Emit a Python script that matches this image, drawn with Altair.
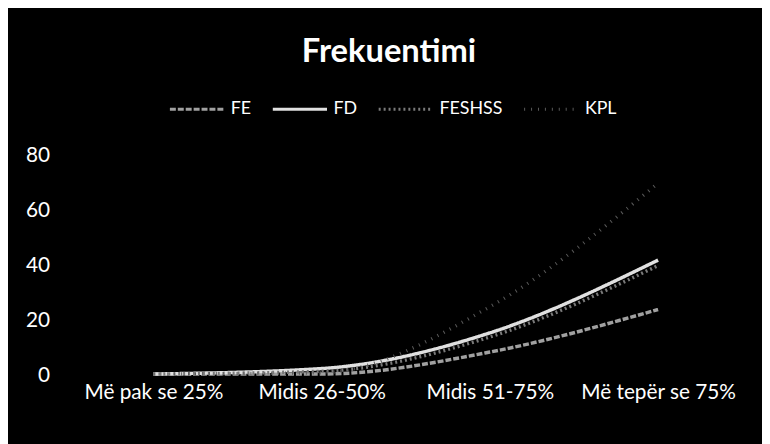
import altair as alt
import pandas as pd

categories = ["Më pak se 25%", "Midis 26-50%", "Midis 51-75%", "Më tepër se 75%"]
series_names = ["FE", "FD", "FESHSS", "KPL"]
fe = [0.5, 0.5, 8.5, 24]
fd = [0.5, 2.5, 15.5, 42]
feshss = [0.5, 1.5, 14, 40]
kpl = [0.5, 1, 25, 70]
y_ticks = [0, 20, 40, 60, 80]

rows = []
for name, vals in zip(series_names, [fe, fd, feshss, kpl]):
    for c, v in zip(categories, vals):
        rows.append({"cat": c, "series": name, "value": v})
df = pd.DataFrame(rows)

FONT = "Lato"

legend_cfg = dict(title=None, orient="none", direction="horizontal",
                  legendX=100, legendY=-76,
                  symbolType="stroke", symbolSize=3000,
                  symbolStrokeWidth=3, labelColor="white",
                  labelFontSize=18, labelFont=FONT, labelOffset=5,
                  columnPadding=15)

chart = alt.Chart(df).mark_line(interpolate="monotone").encode(
    x=alt.X("cat:N", sort=categories, scale=alt.Scale(type="point", padding=0.5),
            axis=alt.Axis(title=None, labelAngle=0, domain=False, ticks=False,
                          labelPadding=6, labelFontSize=21, labelColor="white",
                          labelFont=FONT)),
    y=alt.Y("value:Q", scale=alt.Scale(domain=[0, 80], nice=False),
            axis=alt.Axis(title=None, values=y_ticks, domain=False, ticks=False, grid=False,
                          labelPadding=20, labelFontSize=21, labelColor="white",
                          labelFont=FONT)),
    color=alt.Color("series:N", sort=series_names,
                    scale=alt.Scale(domain=series_names,
                                    range=["#a0a0a0", "#e0e0e0", "#7a7a7a", "#5a5a5a"]),
                    legend=alt.Legend(**legend_cfg)),
    strokeDash=alt.StrokeDash("series:N", sort=series_names,
                              scale=alt.Scale(domain=series_names,
                                              range=[[6, 2], [1, 0], [2, 3], [1, 6]]),
                              legend=alt.Legend(**legend_cfg)),
    strokeWidth=alt.value(3.5),
).properties(
    width=680,
    height=222,
    title=alt.TitleParams("Frekuentimi", color="white", font=FONT, fontSize=33,
                          fontWeight="bold", anchor="middle", offset=12, dx=-17),
    autosize=alt.AutoSizeParams(type="none"),
    padding={"left": 62, "top": 147, "right": 20, "bottom": 67},
    background="black",
).configure_view(stroke=None)

chart.save("out.html", embed_options={"renderer": "svg", "actions": False})
